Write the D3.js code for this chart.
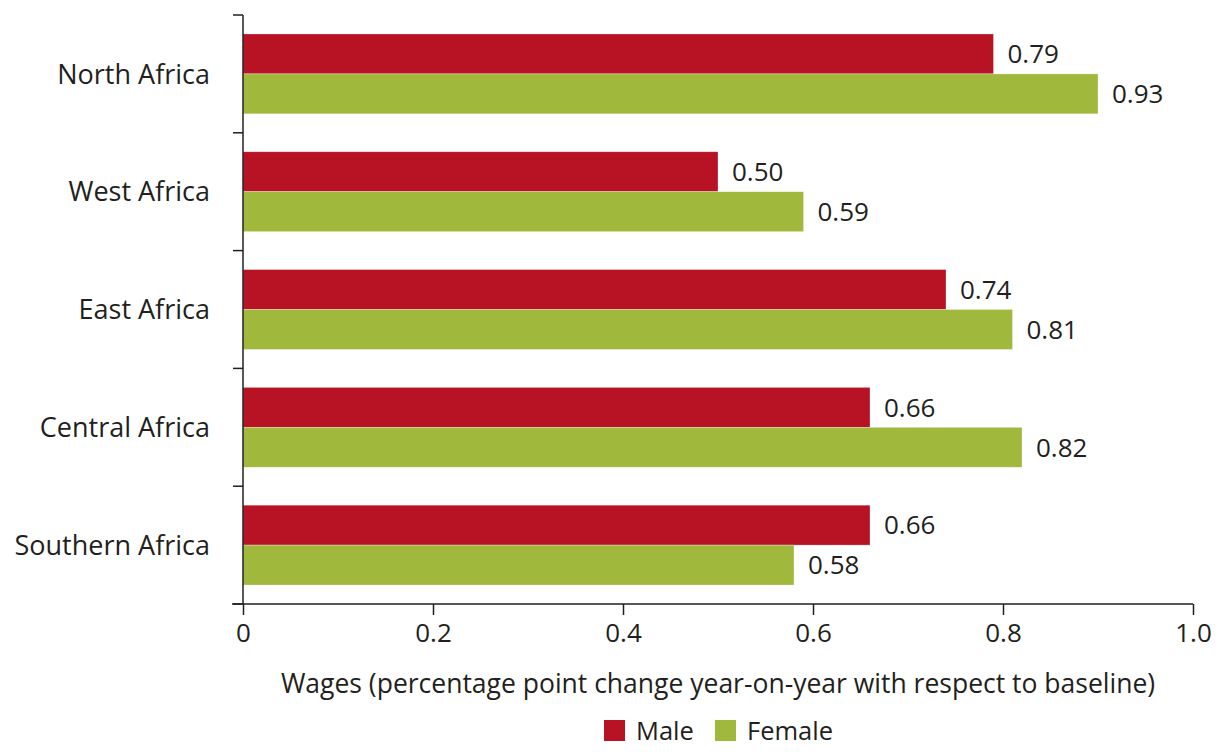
<!DOCTYPE html>
<html>
<head>
<meta charset="utf-8">
<script src="https://d3js.org/d3.v7.min.js"></script>
<style>
  body { margin: 0; background: #fff; }
  text { font-family: "Open Sans", "Noto Sans", sans-serif; fill: #231f20; }
</style>
</head>
<body>
<div id="container"></div>
<script>
// Chart data
var regions = ["North Africa", "West Africa", "East Africa", "Central Africa", "Southern Africa"];
var maleValues = [0.79, 0.50, 0.74, 0.66, 0.66];
var femaleValues = [0.90, 0.59, 0.81, 0.82, 0.58];
var maleLabels = ["0.79", "0.50", "0.74", "0.66", "0.66"];
var femaleLabels = ["0.93", "0.59", "0.81", "0.82", "0.58"];
var xTicks = [0, 0.2, 0.4, 0.6, 0.8, 1.0];
var seriesNames = ["Male", "Female"];
var colors = ["#b71324", "#a0b83c"];

var width = 1229, height = 756;
var margin = {top: 15, right: 36, bottom: 152, left: 243};
var innerW = width - margin.left - margin.right;
var innerH = height - margin.top - margin.bottom;

var svg = d3.select("#container")
  .append("svg")
  .attr("width", width)
  .attr("height", height);

var g = svg.append("g")
  .attr("transform", "translate(" + margin.left + "," + margin.top + ")");

// Scales
var x = d3.scaleLinear().domain([0, 1]).range([0, innerW]);
var y = d3.scaleBand().domain(regions).range([0, innerH]).paddingInner(0).paddingOuter(0);
var sub = d3.scaleBand().domain(seriesNames).range([0, y.bandwidth()]).paddingInner(0).paddingOuter(0.475);

// Table of rows for bars
var rows = [];
regions.forEach(function(r, i) {
  rows.push({region: r, series: "Male", value: maleValues[i], label: maleLabels[i], color: colors[0]});
  rows.push({region: r, series: "Female", value: femaleValues[i], label: femaleLabels[i], color: colors[1]});
});

// Bars
g.selectAll(".bar")
  .data(rows)
  .enter().append("rect")
  .attr("class", "bar")
  .attr("x", x(0))
  .attr("y", function(d) { return y(d.region) + sub(d.series); })
  .attr("width", function(d) { return x(d.value) - x(0); })
  .attr("height", sub.bandwidth())
  .attr("fill", function(d) { return d.color; })
  .attr("stroke", "#fff")
  .attr("stroke-opacity", 0.5)
  .attr("stroke-width", 0.6);

// Value labels
g.selectAll(".val")
  .data(rows)
  .enter().append("text")
  .attr("class", "val")
  .attr("x", function(d) { return x(d.value) + 14; })
  .attr("y", function(d) { return y(d.region) + sub(d.series) + sub.bandwidth() / 2; })
  .attr("dy", "0.36em")
  .style("font-size", "26px")
  .text(function(d) { return d.label; });

// X axis
var xAxis = g.append("g")
  .attr("transform", "translate(0," + innerH + ")")
  .call(d3.axisBottom(x).tickValues(xTicks).tickSize(11).tickPadding(9)
    .tickFormat(function(d) { return d === 0 ? "0" : d3.format(".1f")(d); }));
xAxis.select(".domain").attr("d", "M-11,0H" + innerW);
xAxis.selectAll("line, path").attr("stroke", "#231f20").attr("stroke-width", 1.5);
xAxis.selectAll("text").style("font-size", "26px").style("font-family", "Open Sans, Noto Sans, sans-serif").attr("fill", "#231f20");

// Y axis: ticks at band boundaries
g.append("line")
  .attr("x1", 0).attr("x2", 0)
  .attr("y1", 0).attr("y2", innerH)
  .attr("stroke", "#231f20").attr("stroke-width", 1.5);

var bounds = regions.map(function(r) { return y(r); }).concat([innerH]);
g.selectAll(".ytick")
  .data(bounds)
  .enter().append("line")
  .attr("x1", -10).attr("x2", 0)
  .attr("y1", function(d) { return d; })
  .attr("y2", function(d) { return d; })
  .attr("stroke", "#231f20").attr("stroke-width", 1.5);

g.selectAll(".cat")
  .data(regions)
  .enter().append("text")
  .attr("x", -33)
  .attr("y", function(d) { return y(d) + y.bandwidth() / 2; })
  .attr("dy", "0.36em")
  .attr("text-anchor", "end")
  .style("font-size", "27px")
  .text(function(d) { return d; });

// Axis title
svg.append("text")
  .attr("x", 718)
  .attr("y", 683)
  .attr("dy", "0.36em")
  .attr("text-anchor", "middle")
  .style("font-size", "26.5px")
  .text("Wages (percentage point change year-on-year with respect to baseline)");

// Legend
var legend = svg.append("g").attr("transform", "translate(604,720)");
var legendX = [0, 111];
seriesNames.forEach(function(s, i) {
  legend.append("rect")
    .attr("x", legendX[i]).attr("y", 0)
    .attr("width", 21).attr("height", 21)
    .attr("fill", colors[i]);
  legend.append("text")
    .attr("x", legendX[i] + 32).attr("y", 11)
    .attr("dy", "0.36em")
    .style("font-size", "25.5px")
    .text(s);
});
</script>
</body>
</html>
